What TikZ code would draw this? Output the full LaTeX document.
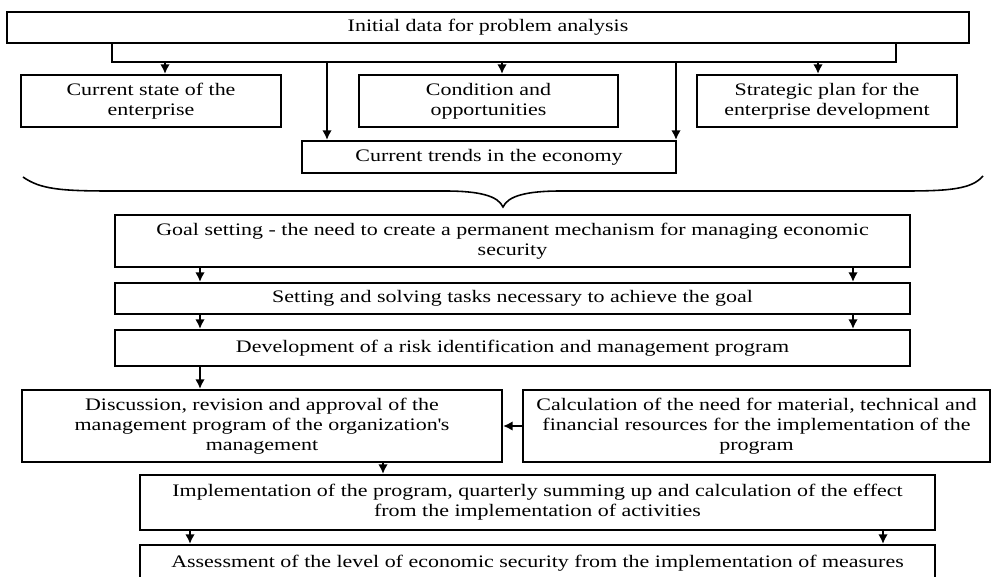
\documentclass[tikz,border=0pt]{standalone}
\usepackage{fontspec}
\setmainfont[FakeStretch=1.25]{Liberation Serif}
\usetikzlibrary{positioning,arrows.meta}

\begin{document}
\begin{tikzpicture}[x=0.02cm,y=-0.02cm,>={Latex[length=5.5pt,width=5.5pt]},
every node/.style={font=\fontsize{10}{11.5}\selectfont},
mybox/.style={draw,line width=1.2pt,align=center,inner sep=2pt},
boxsize/.style 2 args={minimum width=#1*0.02cm,minimum height=#2*0.02cm},
arrowstyle/.style={->,line width=1.2pt},
braceline/.style={line width=0.9pt}]

\useasboundingbox (0,0) rectangle (993,577);
\clip (0,0) rectangle (993,577);

\node[mybox,boxsize={962}{31}](init) at (488,27.5) {Initial data for problem analysis};
\node[mybox,boxsize={260}{52}](state) at (151,101) {Current state of the\\enterprise};
\node[mybox,boxsize={259}{52}](cond) at (488.5,101) {Condition and\\opportunities};
\node[mybox,boxsize={260}{52}](plan) at (827,101) {Strategic plan for the\\enterprise development};
\node[mybox,boxsize={374}{32}](trends) at (489,157) {Current trends in the economy};

\node[mybox,boxsize={795}{52}](goal) at (512.5,241) {Goal setting - the need to create a permanent mechanism for managing economic\\security};
\node[mybox,boxsize={795}{31}](tasks) at (512.5,298.5) {Setting and solving tasks necessary to achieve the goal};
\node[mybox,boxsize={795}{36}](devel) at (512.5,348) {Development of a risk identification and management program};
\node[mybox,boxsize={480}{72}](discuss) at (262,426) {Discussion, revision and approval of the\\management program of the organization\textquotesingle s\\management};
\node[mybox,boxsize={467}{72}](calc) at (756.5,426) {Calculation of the need for material, technical and\\financial resources for the implementation of the\\program};
\node[mybox,boxsize={795}{55}](impl) at (537.5,502.5) {Implementation of the program, quarterly summing up and calculation of the effect\\from the implementation of activities};
\node[mybox,boxsize={795}{36}](assess) at (537.5,563) {Assessment of the level of economic security from the implementation of measures};

% bus under the first box
\coordinate (busl) at (112,62);
\coordinate (busr) at (896,62);
\draw[line width=1.2pt] (busl |- init.south) -- (busl) -- (busr) -- (busr |- init.south);

\coordinate (b1) at (165,62);
\coordinate (b2) at (327,62);
\coordinate (b3) at (502,62);
\coordinate (b4) at (676,62);
\coordinate (b5) at (818,62);
\draw[arrowstyle] (b1) -- (b1 |- state.north);
\draw[arrowstyle] (b2) -- (b2 |- trends.north);
\draw[arrowstyle] (b3) -- (b3 |- cond.north);
\draw[arrowstyle] (b4) -- (b4 |- trends.north);
\draw[arrowstyle] (b5) -- (b5 |- plan.north);

% brace
\draw[braceline] (23,177) .. controls (40,189) and (60,191) .. (110,191) -- (445,191)
  .. controls (480,191) and (498,196) .. (503,207)
  .. controls (508,196) and (526,191) .. (561,191) -- (905,191)
  .. controls (950,191) and (972,189) .. (983,176);

% chain
\coordinate (la) at (200,0);
\coordinate (ra) at (853,0);
\coordinate (ma) at (383,0);
\coordinate (lb) at (190,0);
\coordinate (rb) at (883,0);
\draw[arrowstyle] (goal.south -| la) -- (tasks.north -| la);
\draw[arrowstyle] (goal.south -| ra) -- (tasks.north -| ra);
\draw[arrowstyle] (tasks.south -| la) -- (devel.north -| la);
\draw[arrowstyle] (tasks.south -| ra) -- (devel.north -| ra);
\draw[arrowstyle] (devel.south -| la) -- (discuss.north -| la);
\draw[arrowstyle] (calc.west) -- (discuss.east);
\draw[arrowstyle] (discuss.south -| ma) -- (impl.north -| ma);
\draw[arrowstyle] (impl.south -| lb) -- (assess.north -| lb);
\draw[arrowstyle] (impl.south -| rb) -- (assess.north -| rb);

\end{tikzpicture}
\end{document}
